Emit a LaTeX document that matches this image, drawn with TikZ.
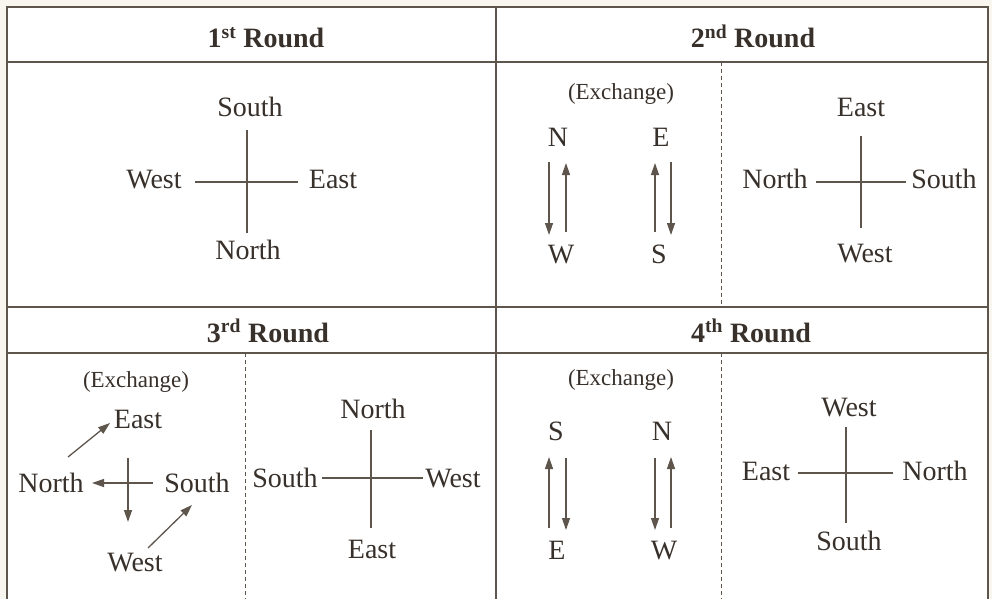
\documentclass[tikz,border=0pt]{standalone}
\usepackage{fontspec,tikz}
\setmainfont{Liberation Serif}
\usetikzlibrary{arrows.meta}
\definecolor{ink}{HTML}{38302A}
\definecolor{rule}{HTML}{5E554D}
\definecolor{paper}{HTML}{F9F6F0}

\begin{document}
\begin{tikzpicture}[x=1pt,y=-1pt,
  lbl/.style={anchor=base,inner sep=0pt,text=ink,font=\fontsize{28}{33.6}\selectfont},
  hdr/.style={lbl,font=\fontsize{28}{33.6}\selectfont\bfseries},
  xch/.style={lbl,font=\fontsize{23}{27.6}\selectfont},
  arm/.style={draw=rule,line width=1.3pt},
  xarrow/.style={draw=rule,line width=1.3pt,-{Triangle[length=12pt,width=8pt]}},
  sep/.style={draw=rule,line width=0.8pt,dash pattern=on 4pt off 3pt}]
\path[use as bounding box,fill=paper] (0,0) rectangle (992,599);
% frame
\fill[white] (7,7) rectangle (988,599);
\draw[rule,line width=1.5pt] (7,599) -- (7,7) -- (988,7) -- (988,599);
\draw[rule,line width=1.5pt] (7,62) -- (988,62);
\draw[rule,line width=1.5pt] (7,307) -- (988,307);
\draw[rule,line width=1.5pt] (7,353) -- (988,353);
\draw[rule,line width=1.5pt] (496,7) -- (496,599);
\draw[sep] (721,62) -- (721,307);
\draw[sep] (245,353) -- (245,599);
\draw[sep] (721,353) -- (721,599);
% headers
\node[hdr] (head1) at (266,48) {1\textsuperscript{st} Round};
\node[hdr] (head2) at (753,48) {2\textsuperscript{nd} Round};
\node[hdr] (head3) at (268,342) {3\textsuperscript{rd} Round};
\node[hdr] (head4) at (751,342) {4\textsuperscript{th} Round};
% 1st round
\node[lbl] (r1top) at (250,117) {South};
\node[lbl] (r1lft) at (154,188) {West};
\node[lbl] (r1rgt) at (333,188) {East};
\node[lbl] (r1bot) at (248,259) {North};
\coordinate (r1v1) at (247,130); \coordinate (r1v2) at (247,233);
\coordinate (r1h1) at (195,182); \coordinate (r1h2) at (298,182);
\draw[arm] (r1v1) -- (r1v2);
\draw[arm] (r1h1) -- (r1h2);
% 2nd round, exchange
\node[xch] (x2) at (621,100) {(Exchange)};
\node[lbl] (x2n) at (558,146) {N};
\node[lbl] (x2e) at (661,146) {E};
\node[lbl] (x2w) at (561,263) {W};
\node[lbl] (x2s) at (659,263) {S};
\coordinate (x2a1) at (549,162); \coordinate (x2a2) at (549,235);
\coordinate (x2b1) at (566,232); \coordinate (x2b2) at (566,163);
\coordinate (x2c1) at (655,232); \coordinate (x2c2) at (655,163);
\coordinate (x2d1) at (671,162); \coordinate (x2d2) at (671,235);
\draw[xarrow] (x2a1) -- (x2a2);
\draw[xarrow] (x2b1) -- (x2b2);
\draw[xarrow] (x2c1) -- (x2c2);
\draw[xarrow] (x2d1) -- (x2d2);
% 2nd round, result
\node[lbl] (r2top) at (861,117) {East};
\node[lbl] (r2lft) at (775,188) {North};
\node[lbl] (r2rgt) at (944,188) {South};
\node[lbl] (r2bot) at (865,262) {West};
\coordinate (r2v1) at (861,136); \coordinate (r2v2) at (861,228);
\coordinate (r2h1) at (816,182); \coordinate (r2h2) at (906,182);
\draw[arm] (r2v1) -- (r2v2);
\draw[arm] (r2h1) -- (r2h2);
% 3rd round, exchange
\node[xch] (x3) at (136,387) {(Exchange)};
\node[lbl] (x3e) at (138,428) {East};
\node[lbl] (x3n) at (51,492) {North};
\node[lbl] (x3s) at (197,492) {South};
\node[lbl] (x3w) at (135,571) {West};
\coordinate (x3a1) at (68,457); \coordinate (x3a2) at (110,423);
\coordinate (x3b1) at (153,483); \coordinate (x3b2) at (92,483);
\coordinate (x3c1) at (128,458); \coordinate (x3c2) at (128,522);
\coordinate (x3d1) at (148,548); \coordinate (x3d2) at (192,505);
\draw[xarrow] (x3a1) -- (x3a2);
\draw[xarrow] (x3b1) -- (x3b2);
\draw[xarrow] (x3c1) -- (x3c2);
\draw[xarrow] (x3d1) -- (x3d2);
% 3rd round, result
\node[lbl] (r3top) at (373,418) {North};
\node[lbl] (r3lft) at (285,487) {South};
\node[lbl] (r3rgt) at (453,487) {West};
\node[lbl] (r3bot) at (372,558) {East};
\coordinate (r3v1) at (371,430); \coordinate (r3v2) at (371,528);
\coordinate (r3h1) at (322,478); \coordinate (r3h2) at (423,478);
\draw[arm] (r3v1) -- (r3v2);
\draw[arm] (r3h1) -- (r3h2);
% 4th round, exchange
\node[xch] (x4) at (621,385) {(Exchange)};
\node[lbl] (x4s) at (556,440) {S};
\node[lbl] (x4n) at (662,440) {N};
\node[lbl] (x4e) at (557,559) {E};
\node[lbl] (x4w) at (664,559) {W};
\coordinate (x4a1) at (549,528); \coordinate (x4a2) at (549,457);
\coordinate (x4b1) at (566,458); \coordinate (x4b2) at (566,530);
\coordinate (x4c1) at (655,458); \coordinate (x4c2) at (655,530);
\coordinate (x4d1) at (671,528); \coordinate (x4d2) at (671,457);
\draw[xarrow] (x4a1) -- (x4a2);
\draw[xarrow] (x4b1) -- (x4b2);
\draw[xarrow] (x4c1) -- (x4c2);
\draw[xarrow] (x4d1) -- (x4d2);
% 4th round, result
\node[lbl] (r4top) at (849,416) {West};
\node[lbl] (r4lft) at (766,480) {East};
\node[lbl] (r4rgt) at (935,480) {North};
\node[lbl] (r4bot) at (849,550) {South};
\coordinate (r4v1) at (846,427); \coordinate (r4v2) at (846,523);
\coordinate (r4h1) at (798,473); \coordinate (r4h2) at (893,473);
\draw[arm] (r4v1) -- (r4v2);
\draw[arm] (r4h1) -- (r4h2);
\end{tikzpicture}
\end{document}
